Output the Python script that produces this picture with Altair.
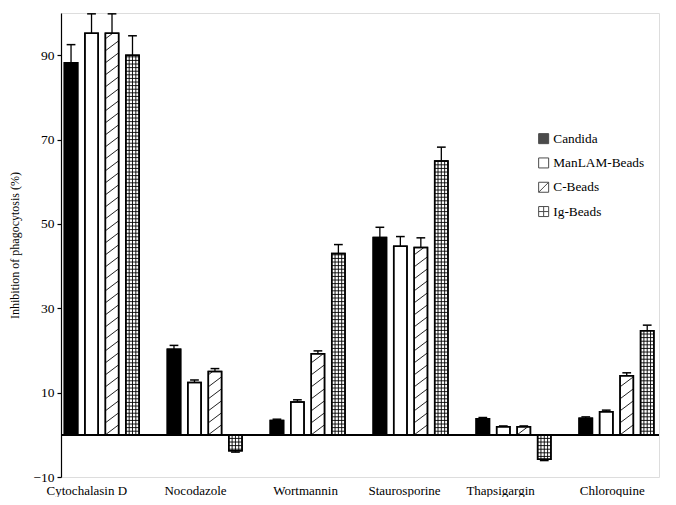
import json
import altair as alt
import pandas as pd

# ---------------- data ----------------
groups = ["Cytochalasin D", "Nocodazole", "Wortmannin", "Staurosporine", "Thapsigargin", "Chloroquine"]
series = ["Candida", "ManLAM-Beads", "C-Beads", "Ig-Beads"]

candida = [88.2, 20.3, 3.4, 46.8, 3.8, 3.95]
candida_err = [4.3, 0.9, 0.3, 2.4, 0.3, 0.3]
manlam = [95.2, 12.4, 7.8, 44.7, 1.9, 5.45]
manlam_err = [4.6, 0.6, 0.5, 2.3, 0.2, 0.4]
cbeads = [95.2, 15.0, 19.2, 44.4, 1.9, 14.0]
cbeads_err = [4.6, 0.7, 0.7, 2.3, 0.2, 0.7]
igbeads = [90.0, -3.8, 43.0, 64.9, -5.8, 24.7]
igbeads_err = [4.6, 0.3, 2.1, 3.3, 0.3, 1.3]

y_ticks = [-10, 10, 30, 50, 70, 90]

values = [candida, manlam, cbeads, igbeads]
errors = [candida_err, manlam_err, cbeads_err, igbeads_err]

# ---------------- layout constants ----------------
W, H = 598, 464
XDOM = [-0.396, 5.413]
YDOM = [-10, 100]
PX_X = W / (XDOM[1] - XDOM[0])
PX_Y = H / (YDOM[1] - YDOM[0])
STEP = 0.199      # offset between bars in a group (group units)
BW = 0.129        # bar width
CAP = 0.085       # error-bar cap width
LABEL_SHIFT = [-0.15, -0.094, -0.025, -0.064, -0.131, -0.046]  # label nudges (group units)
FONT = "Liberation Serif"

rows = []
for si, s in enumerate(series):
    for gi, g in enumerate(groups):
        v = values[si][gi]
        e = errors[si][gi]
        xc = gi + (si - 1.5) * STEP
        sign = 1 if v >= 0 else -1
        rows.append(dict(series=s, group=g, value=v, zero=0.0,
                         xl=xc - BW / 2, xr=xc + BW / 2, xc=xc,
                         etop=v + sign * e, cl=xc - CAP / 2, cr=xc + CAP / 2))
df = pd.DataFrame(rows)

# diagonal hatching for C-Beads (clipped to each bar)
hs = 12 / PX_Y   # vertical spacing between hatch lines
hr = 10 / PX_Y   # rise of one hatch line across the bar
hatch = []
for r in rows:
    if r["series"] != "C-Beads":
        continue
    h = r["value"]
    k = 0
    while k * hs < h:
        y0 = k * hs
        t0 = max(0.0, (0 - y0) / hr)
        t1 = min(1.0, (h - y0) / hr)
        if t1 > t0:
            hatch.append(dict(x1=r["xl"] + t0 * BW, x2=r["xl"] + t1 * BW,
                              y1=y0 + t0 * hr, y2=y0 + t1 * hr))
        k += 1
hatch_df = pd.DataFrame(hatch)

# grid for Ig-Beads
gs = 3.6 / PX_Y
grid_h, grid_v = [], []
for r in rows:
    if r["series"] != "Ig-Beads":
        continue
    v = r["value"]
    sign = 1 if v >= 0 else -1
    k = 1
    while k * gs < abs(v):
        grid_h.append(dict(x1=r["xl"], x2=r["xr"], y=sign * k * gs))
        k += 1
    for j in (1, 2, 3):
        grid_v.append(dict(x=r["xl"] + BW * j / 4, y1=0.0, y2=v))
gh_df = pd.DataFrame(grid_h)
gv_df = pd.DataFrame(grid_v)

# ---------------- scales / axes ----------------
x_scale = alt.Scale(domain=XDOM, nice=False, zero=False)
y_scale = alt.Scale(domain=YDOM, nice=False, zero=False)
label_expr = json.dumps(groups) + "[round(datum.value)]"
x_axis = alt.Axis(values=[i + LABEL_SHIFT[i] for i in range(len(groups))], labelExpr=label_expr,
                  title=None, domain=False, ticks=False, tickSize=0, grid=False,
                  labelFont=FONT, labelFontSize=13, labelColor="black",
                  labelBaseline="bottom", labelPadding=20, labelFlush=False,
                  labelOverlap=False)
y_axis = alt.Axis(values=y_ticks, title="Inhibition of phagocytosis (%)", grid=False,
                  domainColor="black", domainWidth=1.2, tickColor="black", tickSize=4,
                  tickWidth=1.2, labelFont=FONT, labelFontSize=13.5, labelColor="black",
                  labelPadding=3, titleFont=FONT, titleFontSize=12, titleFontWeight="normal",
                  titleColor="black", titleX=-40)


def X(f):
    return alt.X(f, type="quantitative", scale=x_scale, axis=x_axis)


def Y(f):
    return alt.Y(f, type="quantitative", scale=y_scale, axis=y_axis)


paths = {
    "Candida": "M-1,-1H1V1H-1Z",
    "ManLAM-Beads": "M-1,-1H1V1H-1Z",
    "C-Beads": "M-1,-1H1V1H-1Z M-1,1L1,-1",
    "Ig-Beads": "M-1,-1H1V1H-1Z M0,-1V1 M-1,0H1",
}
legend = alt.Legend(title=None, orient="none", legendX=476, legendY=119,
                    labelFont=FONT, labelFontSize=13.3, labelColor="black",
                    symbolSize=100, symbolStrokeColor="black", symbolStrokeWidth=1,
                    rowPadding=9.3, labelOffset=3, padding=0, symbolOffset=0)
fill_scale = alt.Scale(domain=series, range=["black", "white", "white", "white"])
shape_scale = alt.Scale(domain=series, range=[paths[s] for s in series])

base = alt.Chart(df)

bars = base.mark_rect(stroke="black", strokeWidth=1.5).encode(
    x=X("xl"), x2="xr", y=Y("value"), y2="zero",
    fill=alt.Fill("series:N", scale=fill_scale, legend=legend),
)

hatch_layer = alt.Chart(hatch_df).mark_rule(color="#222", strokeWidth=1).encode(
    x=X("x1"), x2="x2", y=Y("y1"), y2="y2")

gridh_layer = alt.Chart(gh_df).mark_rule(color="black", strokeWidth=0.9).encode(
    x=X("x1"), x2="x2", y=Y("y"))
gridv_layer = alt.Chart(gv_df).mark_rule(color="black", strokeWidth=0.9).encode(
    x=X("x"), y=Y("y1"), y2="y2")

outline = base.mark_rect(fillOpacity=0, stroke="black", strokeWidth=1.5).encode(
    x=X("xl"), x2="xr", y=Y("value"), y2="zero")

err_line = base.mark_rule(color="black", strokeWidth=1.3).encode(
    x=X("xc"), y=Y("value"), y2="etop")
err_cap = base.mark_rule(color="black", strokeWidth=1.5).encode(
    x=X("cl"), x2="cr", y=Y("etop"))

zero_line = base.mark_rule(color="black", strokeWidth=1.5).encode(y=alt.datum(0))

legend_pts = base.mark_point(filled=True, stroke="black", strokeWidth=1).encode(
    x=X("xc"), y=Y("value"),
    fill=alt.Fill("series:N", scale=fill_scale, legend=legend),
    shape=alt.Shape("series:N", scale=shape_scale, legend=legend),
).transform_filter("false")

chart = alt.layer(
    bars, hatch_layer, gridh_layer, gridv_layer, outline, err_line, err_cap, zero_line, legend_pts
).properties(
    width=W, height=H,
    autosize=alt.AutoSizeParams(type="none"),
    padding={"left": 53, "top": 5, "right": 9, "bottom": 20},
).configure_view(stroke=None).configure(background="white")

chart.save("out.html", embed_options={"renderer": "svg", "actions": False})
